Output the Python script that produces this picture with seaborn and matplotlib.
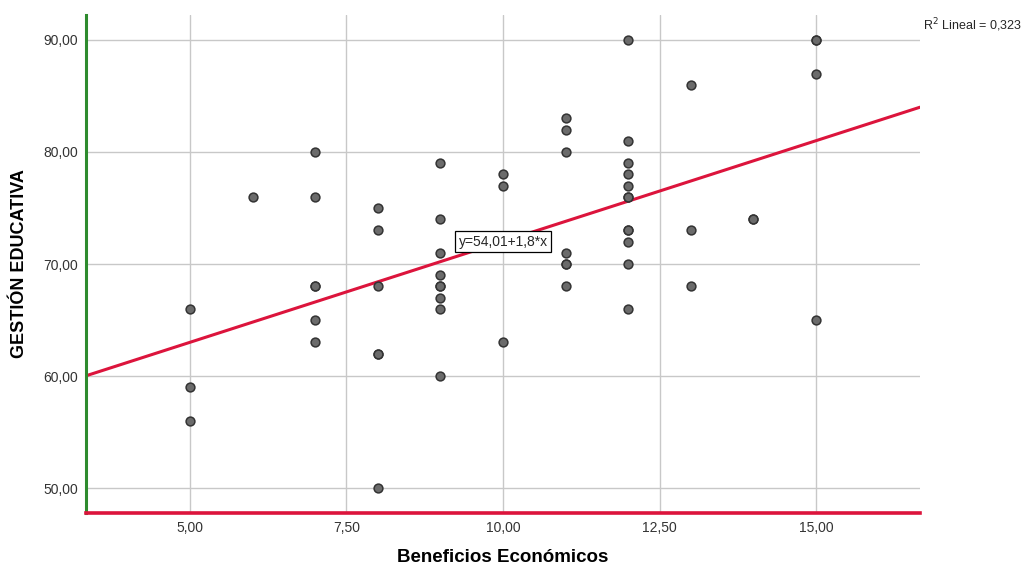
import numpy as np
import matplotlib
matplotlib.use("Agg")
import matplotlib.pyplot as plt
import pandas as pd
import seaborn as sns

# Beneficios Economicos (x) vs Gestion Educativa (y)
beneficios = [5, 5, 5,
              6,
              7, 7, 7, 7, 7, 7,
              8, 8, 8, 8, 8, 8,
              9, 9, 9, 9, 9, 9, 9, 9, 9,
              10, 10, 10,
              11, 11, 11, 11, 11, 11, 11,
              12, 12, 12, 12, 12, 12, 12, 12, 12, 12, 12, 12,
              13, 13, 13,
              14, 14,
              15, 15, 15, 15]
gestion = [66, 59, 56,
           76,
           80, 76, 68, 68, 65, 63,
           75, 73, 68, 62, 62, 50,
           79, 74, 71, 69, 68, 68, 67, 66, 60,
           78, 77, 63,
           83, 82, 80, 71, 70, 70, 68,
           90, 81, 79, 78, 77, 76, 76, 73, 73, 72, 70, 66,
           86, 73, 68,
           74, 74,
           90, 90, 87, 65]

intercept = 54.01
slope = 1.8
r2 = 0.323

df = pd.DataFrame({"x": beneficios, "y": gestion})

sns.set_style("white")
plt.rcParams["font.family"] = ["Liberation Sans", "DejaVu Sans"]

fig = plt.figure(figsize=(10.23, 5.68), dpi=100)
ax = fig.add_axes([0.0841, 0.0968, 0.8152, 0.8768])

xmin, xmax = 3.34, 16.66
ymin, ymax = 47.77, 92.23

ax.grid(True, color="#c8c8c8", linewidth=1)
ax.set_axisbelow(True)

# fit line
xs = np.array([xmin, xmax])
sns.lineplot(x=xs, y=intercept + slope * xs, ax=ax, color="#dc143c",
             linewidth=2.2, zorder=2)

sns.scatterplot(data=df, x="x", y="y", ax=ax, color="#6b6b6b",
                edgecolor="#333333", linewidth=1.1, s=40, zorder=3)

ax.set_xlim(xmin, xmax)
ax.set_ylim(ymin, ymax)
ax.set_xticks([5, 7.5, 10, 12.5, 15])
ax.set_yticks([50, 60, 70, 80, 90])
ax.set_xticklabels(["5,00", "7,50", "10,00", "12,50", "15,00"])
ax.set_yticklabels(["50,00", "60,00", "70,00", "80,00", "90,00"])
ax.tick_params(length=0, labelsize=10, colors="#333333")
ax.tick_params(axis="x", pad=6)
ax.tick_params(axis="y", pad=6)

for s in ["top", "right"]:
    ax.spines[s].set_visible(False)
ax.spines["left"].set_color("#2e8b2e")
ax.spines["left"].set_linewidth(2.2)
ax.spines["bottom"].set_color("#dc143c")
ax.spines["bottom"].set_linewidth(2.6)

ax.set_xlabel("Beneficios Económicos", fontsize=13.5, fontweight="bold",
              labelpad=10, color="black")
ax.set_ylabel("GESTIÓN EDUCATIVA", fontsize=13, fontweight="bold",
              labelpad=11, color="black")

ax.text(10.0, 72.0, "y=54,01+1,8*x", fontsize=10, ha="center", va="center",
        zorder=4,
        bbox=dict(boxstyle="square,pad=0.25", facecolor="white",
                  edgecolor="black", linewidth=0.9))

fig.text(0.9985, 0.955, "R$^2$ Lineal = 0,323", fontsize=9,
         ha="right", va="center")

fig.savefig("out.png", dpi=100)
